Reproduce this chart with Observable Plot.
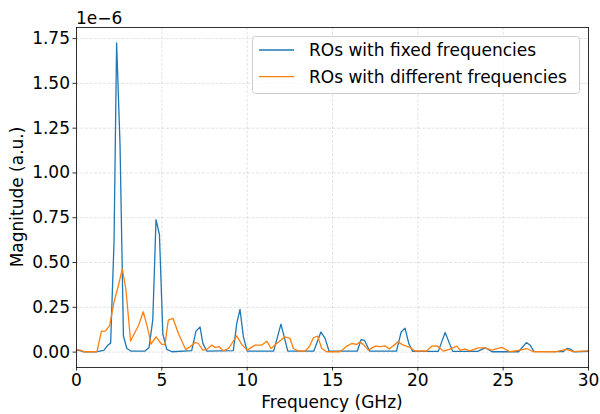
<!DOCTYPE html>
<html><head><meta charset="utf-8">
<script src="https://cdn.jsdelivr.net/npm/d3@7"></script>
<script src="https://cdn.jsdelivr.net/npm/@observablehq/plot@0.6"></script>
<style>body{margin:0;background:#fff;} #chart{width:600px;height:414px}</style>
</head><body><div id="chart"></div>
<script>
const seriesNames = ["ROs with fixed frequencies", "ROs with different frequencies"];
const seriesColors = ["#1f77b4", "#ff7f0e"];
const xTicks = [0, 5, 10, 15, 20, 25, 30];
const yTicks = [0, 0.25, 0.5, 0.75, 1.0, 1.25, 1.5, 1.75];
const xLabel = "Frequency (GHz)";
const yLabel = "Magnitude (a.u.)";
const offsetLabel = "1e\u22126";

// Frequency (GHz) and magnitude (×1e-6), fixed-frequency ROs
const freqFixed = [0,0.2,0.4,1.2,1.6,1.85,2.0,2.2,2.35,2.55,2.75,2.95,3.2,4.0,4.25,4.47,4.66,4.86,5.06,5.29,5.6,6.75,7.0,7.24,7.4,7.63,9.19,9.39,9.58,9.78,10.0,11.55,11.98,12.38,13.9,14.32,14.56,14.8,16.45,16.68,16.88,17.18,18.75,19.02,19.25,19.48,19.7,21.2,21.6,22.04,23.5,23.95,24.35,25.9,26.36,26.57,26.8,28.52,28.74,28.94,29.15,30];
const magFixed = [0.011,0.008,0.002,0.002,0.01,0.04,0.05,0.62,1.726,1.16,0.09,0.02,0.005,0.005,0.025,0.18,0.74,0.655,0.1,0.015,0.002,0.008,0.117,0.14,0.05,0.005,0.008,0.16,0.238,0.085,0.005,0.005,0.156,0.005,0.005,0.112,0.078,0.005,0.005,0.07,0.065,0.005,0.005,0.112,0.134,0.045,0.004,0.004,0.11,0.004,0.004,0.024,0.002,0.002,0.053,0.04,0.004,0.003,0.02,0.017,0.002,0.004];

// Different-frequency ROs
const freqDiff = [0,0.23,0.43,1.2,1.46,1.69,1.94,2.2,2.46,2.68,2.89,3.17,3.64,3.91,4.15,4.37,4.66,4.98,5.18,5.38,5.66,5.97,6.4,6.65,6.95,7.14,7.4,7.63,7.93,8.12,8.37,8.6,8.9,9.1,9.39,9.68,10.0,10.46,10.86,11.15,11.4,11.73,12.22,12.51,12.71,13.0,13.39,13.64,13.88,14.13,14.37,14.66,15.44,15.83,16.13,16.42,16.6,16.8,17.1,17.5,17.79,18.08,18.33,18.82,19.15,19.5,19.84,20.52,20.81,21.1,21.5,21.89,22.28,22.47,22.77,23.06,23.54,23.94,24.33,24.92,25.4,25.99,26.38,26.77,28.1,28.72,29.1,30];
const magDiff = [0.013,0.011,0.002,0.002,0.117,0.117,0.148,0.28,0.373,0.464,0.355,0.062,0.15,0.225,0.141,0.044,0.085,0.044,0.042,0.178,0.188,0.104,0.015,0.03,0.054,0.048,0.011,0.015,0.039,0.026,0.03,0.007,0.02,0.048,0.091,0.043,0.011,0.039,0.039,0.061,0.02,0.048,0.085,0.076,0.02,0.006,0.006,0.03,0.08,0.089,0.02,0.002,0.002,0.033,0.048,0.043,0.057,0.043,0.011,0.033,0.03,0.035,0.017,0.057,0.039,0.028,0.006,0.006,0.033,0.035,0.006,0.017,0.033,0.011,0.017,0.007,0.024,0.024,0.011,0.026,0.002,0.011,0.02,0.002,0.002,0.015,0.003,0.007];

const fixed = freqFixed.map((f, i) => ({f, m: magFixed[i]}));
const diff = freqDiff.map((f, i) => ({f, m: magDiff[i]}));

const W = 600, H = 414, mL = 76, mR = 12, mT = 27, mB = 47;
const font = "DejaVu Sans";
const grid = {stroke: "#b0b0b0", strokeOpacity: 0.45, strokeWidth: 0.8, strokeDasharray: "3,1.5"};

const plot = Plot.plot({
  width: W, height: H,
  marginLeft: mL, marginRight: mR, marginTop: mT, marginBottom: mB,
  style: {fontFamily: font, fontSize: "17px", color: "#000", background: "#fff"},
  x: {domain: [0, 30]},
  y: {domain: [-0.086, 1.812]},
  marks: [
    Plot.gridX(xTicks, grid),
    Plot.gridY(yTicks, grid),
    Plot.line(fixed, {x: "f", y: "m", stroke: seriesColors[0], strokeWidth: 1.3}),
    Plot.line(diff, {x: "f", y: "m", stroke: seriesColors[1], strokeWidth: 1.3}),
    Plot.frame({stroke: "#000", strokeWidth: 0.8}),
    Plot.axisX(xTicks, {tickSize: 3.5, tickPadding: 3, tickFormat: d => String(d), label: null, fontSize: 17, strokeWidth: 0.8}),
    Plot.axisY(yTicks, {tickSize: 3.5, tickPadding: 3, tickFormat: d3.format(".2f"), label: null, fontSize: 17, strokeWidth: 0.8})
  ]
});
document.getElementById("chart").appendChild(plot);

const svg = d3.select(plot);
svg.append("text").attr("x", (mL + W - mR) / 2).attr("y", 408)
  .attr("text-anchor", "middle").attr("font-family", font).attr("font-size", 17).text(xLabel);
svg.append("text").attr("transform", `translate(23,${(mT + H - mB) / 2}) rotate(-90)`)
  .attr("text-anchor", "middle").attr("font-family", font).attr("font-size", 17).text(yLabel);
svg.append("text").attr("x", mL).attr("y", 24).attr("text-anchor", "start")
  .attr("font-family", font).attr("font-size", 17).text(offsetLabel);

const lg = svg.append("g");
lg.append("rect").attr("x", 252.5).attr("y", 36.5).attr("width", 327).attr("height", 57)
  .attr("rx", 3).attr("fill", "#fff").attr("fill-opacity", 0.8).attr("stroke", "#cccccc").attr("stroke-width", 1);
seriesNames.forEach((name, i) => {
  const cy = 50 + i * 26.7;
  lg.append("line").attr("x1", 259).attr("x2", 294).attr("y1", cy).attr("y2", cy)
    .attr("stroke", seriesColors[i]).attr("stroke-width", 1.3);
  lg.append("text").attr("x", 309).attr("y", cy).attr("dy", "0.35em").attr("text-anchor", "start")
    .attr("font-family", font).attr("font-size", 17).text(name);
});
</script>
</body></html>
